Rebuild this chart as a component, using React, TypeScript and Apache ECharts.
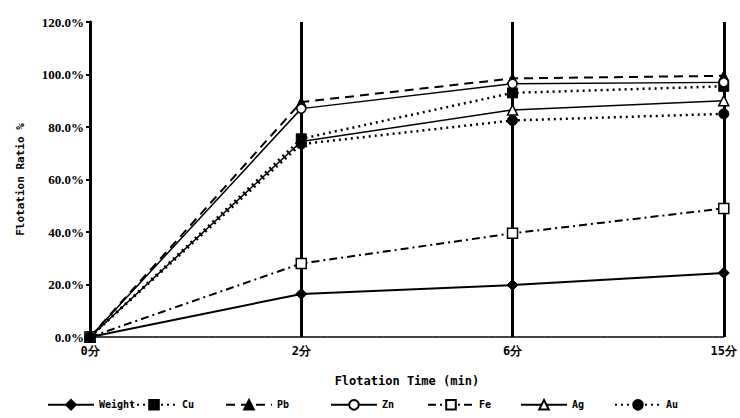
import React, { useEffect, useRef } from "react";
import * as echarts from "echarts";

const categories = ["0分", "2分", "6分", "15分"];
const seriesNames = ["Weight", "Cu", "Pb", "Zn", "Fe", "Ag", "Au"];
const weight = [0, 16.4, 19.8, 24.4];
const cu = [0, 75.5, 93.0, 95.5];
const pb = [0, 89.5, 98.5, 99.5];
const zn = [0, 87.0, 96.5, 97.0];
const fe = [0, 28.0, 39.5, 49.0];
const ag = [0, 74.5, 86.5, 90.0];
const au = [0, 73.5, 82.5, 85.0];
const yTicks = [0, 20, 40, 60, 80, 100, 120];

const FONT = "'DejaVu Sans Mono', monospace";

export default function App() {
  const ref = useRef<HTMLDivElement>(null);
  useEffect(() => {
    if (!ref.current) return;
    const chart = echarts.init(ref.current, null, { renderer: "svg" });
    const black = "#000";
    const mk = (
      name: string,
      data: number[],
      type: any,
      width: number,
      symbol: string,
      size: number,
      filled: boolean
    ) => ({
      name,
      type: "line",
      data,
      symbol,
      symbolSize: size,
      showAllSymbol: true,
      lineStyle: { color: black, width, type },
      itemStyle: filled
        ? { color: black, borderColor: black, borderWidth: 1 }
        : { color: "#fff", borderColor: black, borderWidth: 1.5 },
      z: 3,
    });
    const series = [
      mk(seriesNames[0], weight, "solid", 2, "diamond", 11, true),
      mk(seriesNames[1], cu, [2, 4], 2.5, "rect", 10, true),
      mk(seriesNames[2], pb, [9, 6], 2, "triangle", 10, true),
      mk(seriesNames[3], zn, "solid", 1.5, "circle", 9, false),
      mk(seriesNames[4], fe, [8, 4, 2, 4], 2, "rect", 10, false),
      mk(seriesNames[5], ag, "solid", 1.5, "triangle", 10, false),
      mk(seriesNames[6], au, [2, 4], 2.5, "circle", 10, true),
    ];
    const legendCenters = [70, 153, 248, 353, 450, 543, 637];
    const legends = seriesNames.map((n, i) => ({
      data: [n],
      left: legendCenters[i] - 23,
      top: 399,
      itemWidth: 46,
      itemHeight: 12,
      itemGap: 0,
      padding: 0,
      textStyle: { fontFamily: FONT, fontSize: 10, fontWeight: "bold", color: black },
      selectedMode: false,
    }));
    chart.setOption({
      animation: false,
      backgroundColor: "#fff",
      legend: legends,
      grid: { left: 90, right: 15, top: 22, bottom: 81, containLabel: false },
      xAxis: {
        type: "category",
        data: categories,
        boundaryGap: false,
        name: "Flotation Time (min)",
        nameLocation: "middle",
        nameGap: 38,
        nameTextStyle: { fontFamily: FONT, fontSize: 12, fontWeight: "bold", color: black },
        axisLine: { lineStyle: { color: black, width: 1.5, type: [6, 1] } },
        axisTick: { show: false },
        axisLabel: { fontFamily: FONT, fontSize: 12, fontWeight: "bold", color: black, margin: 8 },
        splitLine: { show: true, lineStyle: { color: black, width: 3 } },
      },
      yAxis: {
        type: "value",
        min: yTicks[0],
        max: yTicks[yTicks.length - 1],
        interval: 20,
        name: "Flotation Ratio %",
        nameLocation: "middle",
        nameGap: 64,
        nameTextStyle: { fontFamily: FONT, fontSize: 11, fontWeight: "bold", color: black },
        axisLine: { show: true, lineStyle: { color: black, width: 3 } },
        axisTick: { show: true, length: 4, lineStyle: { color: black, width: 2 } },
        axisLabel: {
          fontFamily: "'Liberation Serif', serif",
          fontSize: 13,
          fontWeight: "bold",
          color: black,
          margin: 6,
          formatter: (v: number) => v.toFixed(1) + "%",
        },
        splitLine: { show: false },
      },
      series,
    });
    return () => chart.dispose();
  }, []);
  return <div ref={ref} style={{ width: 740, height: 418, position: "absolute", left: 0, top: 0 }} />;
}
